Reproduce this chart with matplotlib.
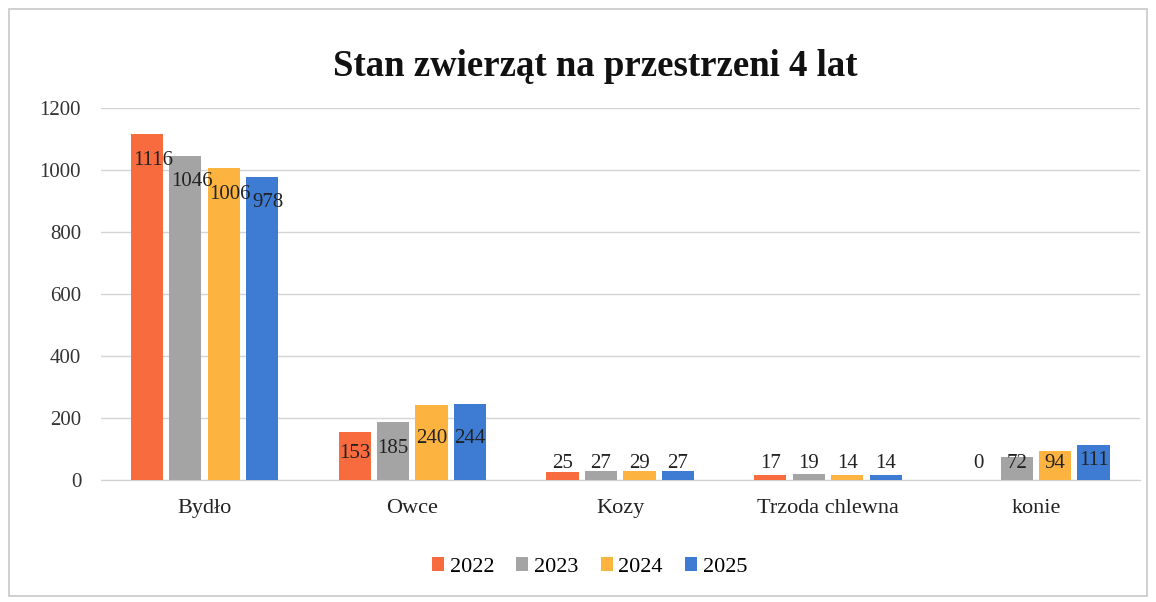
import numpy as np
import matplotlib.pyplot as plt
from matplotlib.patches import Rectangle

categories = ["Bydło", "Owce", "Kozy", "Trzoda chlewna", "konie"]
years = ["2022", "2023", "2024", "2025"]
values_2022 = [1116, 153, 25, 17, 0]
values_2023 = [1046, 185, 27, 19, 72]
values_2024 = [1006, 240, 29, 14, 94]
values_2025 = [978, 244, 27, 14, 111]
y_ticks = [0, 200, 400, 600, 800, 1000, 1200]

series = [values_2022, values_2023, values_2024, values_2025]
colors = ["#F86B3E", "#A4A4A4", "#FDB340", "#3E7BD3"]

plt.rcParams["font.family"] = ["Liberation Serif", "DejaVu Serif"]

fig = plt.figure(figsize=(11.56, 6.02), dpi=100)
fig.patches.append(Rectangle((0.008, 0.01), 0.984, 0.975, transform=fig.transFigure,
                             fill=False, edgecolor="#c8c8c8", linewidth=1.2))

ax = fig.add_axes([0.087, 0.203, 0.899, 0.618])
x = np.arange(len(categories))
width = 0.155
step = 0.185

for i, (vals, col, yr) in enumerate(zip(series, colors, years)):
    pos = x + (i - 1.5) * step
    ax.bar(pos, vals, width=width, color=col, label=yr, zorder=3)
    for p, v in zip(pos, vals):
        if v > 500:
            ty = v - 85
            tx = p + 0.03
        else:
            ty = max(v * 0.55, 52)
            tx = p
        ax.text(tx, ty, str(v), ha="center", va="center", fontsize=15,
                color="#222222", zorder=4)

ax.set_ylim(0, 1200)
ax.set_xlim(-0.5, len(categories) - 0.5)
ax.set_yticks(y_ticks)
ax.set_yticklabels([str(t) for t in y_ticks], fontsize=15, color="#333333")
ax.set_xticks(x)
ax.set_xticklabels(categories, fontsize=16, color="#222222")
ax.tick_params(axis="x", length=0, pad=14)
ax.tick_params(axis="y", length=0, pad=14)
ax.yaxis.grid(True, color="#d4d4d4", linewidth=1.0, zorder=0)
for s in ["top", "right", "left"]:
    ax.spines[s].set_visible(False)
ax.spines["bottom"].set_color("#d0d0d0")

fig.text(0.515, 0.89, "Stan zwierząt na przestrzeni 4 lat", ha="center", va="center",
         fontsize=26.5, fontweight="bold", color="#111111")

fig.legend(loc="center", bbox_to_anchor=(0.51, 0.058), ncol=4, frameon=False,
           fontsize=16, handlelength=0.55, handleheight=0.55, handletextpad=0.25,
           columnspacing=1.0)

fig.savefig("out.png", dpi=100)
